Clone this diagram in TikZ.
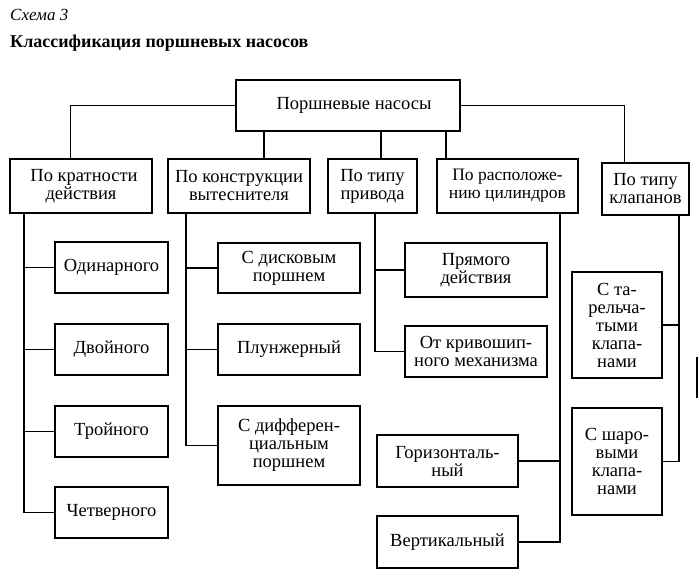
\documentclass[tikz,border=0pt]{standalone}
\usepackage{fontspec}
\setmainfont{Liberation Serif}
\begin{document}
\begin{tikzpicture}[x=1pt,y=-1pt,
  box/.style={draw, line width=1.4pt, inner sep=0pt, align=center,
    font=\fontsize{18.5}{18}\selectfont},
  conn/.style={line width=1.1pt}]
\useasboundingbox[fill=white] (0,0) rectangle (699,580);
% titles
\node[anchor=base west, inner sep=0pt, font=\fontsize{17}{20}\selectfont\itshape] (t1) at (10,21) {Схема 3};
\node[anchor=base west, inner sep=0pt, font=\fontsize{18}{21}\selectfont\bfseries] (t2) at (10,48) {Классификация поршневых насосов};
% top
\node[box, minimum width=224pt, minimum height=51pt] (top) at (348,105.5) {\hspace*{12pt}Поршневые насосы};
% categories
\node[box, minimum width=142pt, minimum height=54pt] (c1) at (81,186) {\hspace*{6pt}По кратности\\действия};
\node[box, minimum width=142pt, minimum height=54pt] (c2) at (239,186) {По конструкции\\вытеснителя};
\node[box, minimum width=89pt, minimum height=54pt] (c3) at (372.5,186) {По типу\\привода};
\node[box, minimum width=141pt, minimum height=54pt, font=\fontsize{17.5}{18}\selectfont] (c4) at (507.5,186) {По расположе-\\нию цилиндров};
\node[box, minimum width=87pt, minimum height=52pt] (c5) at (645.5,189) {По типу\\клапанов};
% column 1
\node[box, minimum width=113pt, minimum height=51pt] (a1) at (111.5,267.5) {Одинарного};
\node[box, minimum width=113pt, minimum height=51pt] (a2) at (111.5,349.5) {Двойного};
\node[box, minimum width=113pt, minimum height=51pt] (a3) at (111.5,431.5) {Тройного};
\node[box, minimum width=113pt, minimum height=51pt] (a4) at (111.5,512.5) {Четверного};
% column 2
\node[box, minimum width=142pt, minimum height=50pt] (b1) at (289,268) {С дисковым\\поршнем};
\node[box, minimum width=142pt, minimum height=51pt] (b2) at (289,349.5) {Плунжерный};
\node[box, minimum width=142pt, minimum height=79pt] (b3) at (289,445.5) {С дифферен-\\циальным\\поршнем};
% column 3
\node[box, minimum width=142pt, minimum height=54pt] (d1) at (476,270) {Прямого\\действия};
\node[box, minimum width=142pt, minimum height=51pt] (d2) at (476,351.5) {От кривошип-\\ного механизма};
% column 4
\node[box, minimum width=141pt, minimum height=52pt] (e1) at (447.5,461) {Горизонталь-\\ный};
\node[box, minimum width=141pt, minimum height=52pt] (e2) at (447.5,542) {Вертикальный};
% column 5
\node[box, minimum width=90pt, minimum height=106pt] (f1) at (617,325) {С та-\\рельча-\\тыми\\клапа-\\нами};
\node[box, minimum width=90pt, minimum height=107pt] (f2) at (617,461.5) {С шаро-\\выми\\клапа-\\нами};
% connectors from top
\draw[conn] (top.west) -| ([xshift=61pt]c1.north west);
\draw[conn] (top.east) -| ([xshift=23pt]c5.north west);
\draw[conn] (top.south -| 264,0) -- (c2.north -| 264,0);
\draw[conn] (top.south -| 381,0) -- (c3.north -| 381,0);
\draw[conn] (top.south -| 446,0) -- (c4.north -| 446,0);
% column 1
\draw[conn] (c1.south -| 24,0) |- (a4.west);
\draw[conn] (a1.west) -- (a1.west -| 24,0);
\draw[conn] (a2.west) -- (a2.west -| 24,0);
\draw[conn] (a3.west) -- (a3.west -| 24,0);
% column 2
\draw[conn] (c2.south -| 186,0) |- (b3.west);
\draw[conn] (b1.west) -- (b1.west -| 186,0);
\draw[conn] (b2.west) -- (b2.west -| 186,0);
% column 3
\draw[conn] (c3.south -| 375,0) |- (d2.west);
\draw[conn] (d1.west) -- (d1.west -| 375,0);
% column 4
\draw[conn] (c4.south -| 560,0) |- (e2.east);
\draw[conn] (e1.east) -- (e1.east -| 560,0);
% column 5
\draw[conn] (c5.south -| 679,0) |- (f2.east);
\draw[conn] (f1.east) -- (f1.east -| 679,0);
% edge mark
\draw[line width=2.5pt] (697,357) -- (697,398);
\end{tikzpicture}
\end{document}
